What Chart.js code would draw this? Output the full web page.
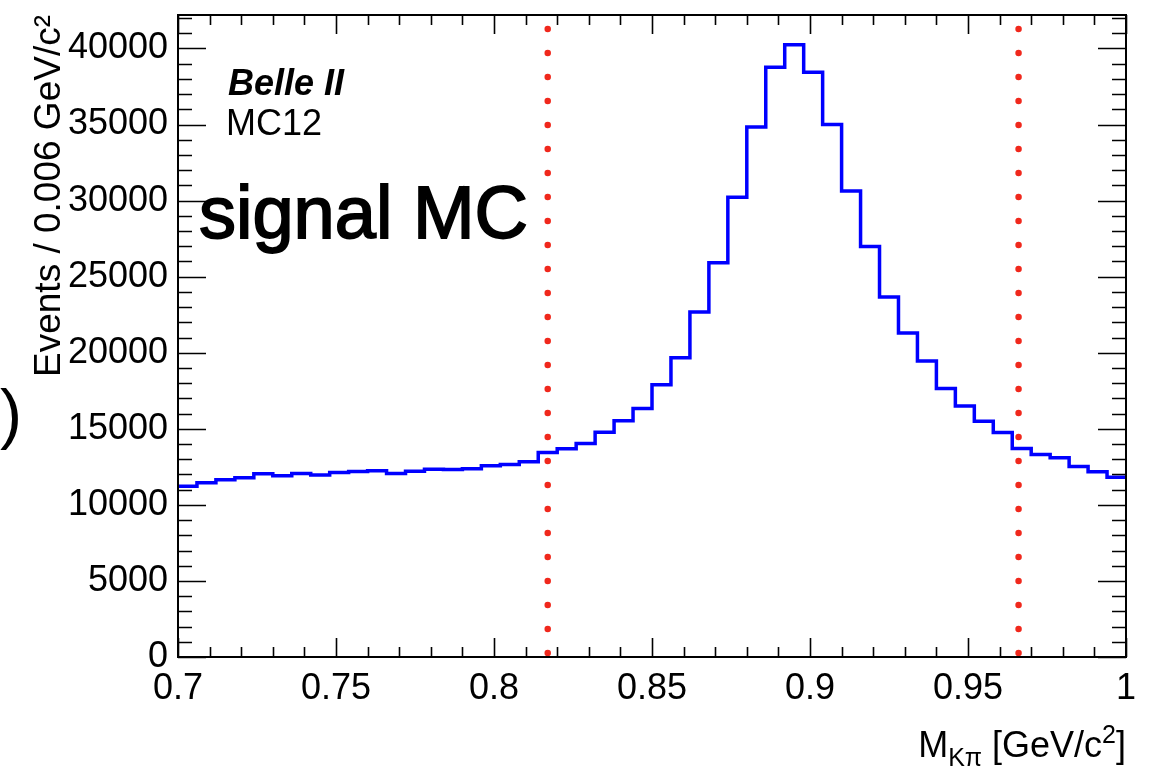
<!DOCTYPE html>
<html>
<head>
<meta charset="utf-8">
<script src="https://cdn.jsdelivr.net/npm/chart.js@4.4.1/dist/chart.umd.min.js"></script>
<style>
  html, body { margin: 0; padding: 0; background: #ffffff; }
  #wrap { width: 1154px; height: 771px; position: relative; }
</style>
</head>
<body>
<div id="wrap"><canvas id="c" width="1154" height="771"></canvas></div>
<script>
// ---- data ----
const binLow = 0.7;          // GeV/c^2, first bin edge
const binWidth = 0.006;      // GeV/c^2 per bin
const counts = [
  11220, 11450, 11650, 11780, 12040, 11910, 12060, 11970, 12130, 12190,
  12240, 12060, 12210, 12340, 12330, 12370, 12570, 12650, 12830, 13450,
  13690, 14030, 14780, 15530, 16340, 17900, 19670, 22670, 25920, 30220,
  34840, 38770, 40240, 38440, 35000, 30630, 26990, 23660, 21290, 19450,
  17650, 16500, 15500, 14760, 13700, 13310, 13090, 12520, 12170, 11820
];
const cutLines = [0.817, 0.966];              // mass window
const xTickValues = [0.7, 0.75, 0.8, 0.85, 0.9, 0.95, 1.0];
const xTickLabels = ['0.7', '0.75', '0.8', '0.85', '0.9', '0.95', '1'];
const yTickValues = [0, 5000, 10000, 15000, 20000, 25000, 30000, 35000, 40000];
const yTickLabels = ['0', '5000', '10000', '15000', '20000', '25000', '30000', '35000', '40000'];
const xRange = [0.7, 1.0];
const yMax = 42200;

// histogram outline points (left bin edges, plus closing right edge)
const histPoints = counts.map((c, i) => ({ x: binLow + i * binWidth, y: c }));
histPoints.push({ x: binLow + counts.length * binWidth, y: counts[counts.length - 1] });

const cutDatasets = cutLines.map(v => ({
  data: [{ x: v, y: 0 }, { x: v, y: yMax }],
  borderColor: 'rgb(240,40,28)',
  borderWidth: 6.5,
  borderDash: [0, 24],
  borderDashOffset: 20,
  borderCapStyle: 'round',
  pointRadius: 0,
  fill: false,
  tension: 0,
  order: 1
}));

const noPad = s => { s.paddingTop = 0; s.paddingBottom = 0; s.paddingLeft = 0; s.paddingRight = 0; };

const frameTicks = {
  id: 'frameTicks',
  afterDatasetsDraw(chart) {
    const { ctx, chartArea: a, scales: { x, y } } = chart;
    ctx.save();
    ctx.strokeStyle = '#000';
    ctx.lineWidth = 1.6;
    ctx.beginPath();
    for (let k = 0; k * 1000 <= y.max; k++) {
      const py = Math.round(y.getPixelForValue(k * 1000)) + 0.5;
      const len = k % 5 === 0 ? 28 : 14;
      ctx.moveTo(a.left, py); ctx.lineTo(a.left + len, py);
      ctx.moveTo(a.right, py); ctx.lineTo(a.right - len, py);
    }
    for (let k = 0; k <= 30; k++) {
      const px = Math.round(x.getPixelForValue(xRange[0] + k * 0.01)) + 0.5;
      const len = k % 5 === 0 ? 19 : 10;
      ctx.moveTo(px, a.bottom); ctx.lineTo(px, a.bottom - len);
      ctx.moveTo(px, a.top); ctx.lineTo(px, a.top + len);
    }
    ctx.stroke();
    ctx.lineWidth = 2;
    ctx.strokeRect(a.left, a.top, a.right - a.left, a.bottom - a.top);
    ctx.restore();
  }
};

const annotations = {
  id: 'annotations',
  afterDraw(chart) {
    const { ctx, chartArea: a } = chart;
    ctx.save();
    ctx.fillStyle = '#000';
    ctx.textAlign = 'left';
    ctx.textBaseline = 'alphabetic';
    ctx.font = 'italic bold 36px "Liberation Sans", Arial, sans-serif';
    ctx.fillText('Belle II', 228, 95);
    ctx.font = '36px "Liberation Sans", Arial, sans-serif';
    ctx.fillText('MC12', 226, 135);
    ctx.font = '74px "Liberation Sans", Arial, sans-serif';
    ctx.strokeStyle = '#000';
    ctx.lineWidth = 1.8;
    ctx.fillText('signal MC', 199, 238);
    ctx.strokeText('signal MC', 199, 238);
    ctx.font = '66px "Liberation Sans", Arial, sans-serif';
    ctx.fillText(')', 0, 436);

    // x-axis title  M_{K pi} [GeV/c^2], right aligned to frame
    const big = '36px "Liberation Sans", Arial, sans-serif';
    const small = '25px "Liberation Sans", Arial, sans-serif';
    const parts = [
      { t: 'M', f: big, dy: 0 },
      { t: 'Kπ', f: small, dy: 9 },
      { t: ' [GeV/c', f: big, dy: 0 },
      { t: '2', f: small, dy: -14 },
      { t: ']', f: big, dy: 0 }
    ];
    let total = 0;
    parts.forEach(p => { ctx.font = p.f; p.w = ctx.measureText(p.t).width; total += p.w; });
    let cx = a.right - total;
    const base = 757;
    parts.forEach(p => { ctx.font = p.f; ctx.fillText(p.t, cx, base + p.dy); cx += p.w; });
    ctx.restore();
  }
};

new Chart(document.getElementById('c'), {
  type: 'line',
  data: {
    datasets: [
      {
        data: histPoints,
        stepped: 'before',
        borderColor: '#0000ff',
        borderWidth: 3.5,
        pointRadius: 0,
        fill: false,
        order: 2
      },
      ...cutDatasets
    ]
  },
  options: {
    responsive: false,
    animation: false,
    devicePixelRatio: 1,
    layout: { padding: { top: 15, right: 28, left: 0, bottom: 0 } },
    plugins: { legend: { display: false }, tooltip: { enabled: false } },
    scales: {
      x: {
        type: 'linear',
        min: xRange[0],
        max: xRange[1],
        afterBuildTicks: s => { s.ticks = xTickValues.map(v => ({ value: v })); },
        afterFit: s => { s.height = 114; noPad(s); },
        grid: { display: false, drawTicks: false },
        border: { display: false },
        ticks: {
          color: '#000',
          font: { family: '"Liberation Sans", Arial, sans-serif', size: 36 },
          padding: 10,
          maxRotation: 0,
          autoSkip: false,
          callback: (v) => {
            const i = xTickValues.findIndex(t => Math.abs(t - v) < 1e-9);
            return i >= 0 ? xTickLabels[i] : '';
          }
        }
      },
      y: {
        type: 'linear',
        min: 0,
        max: yMax,
        afterBuildTicks: s => { s.ticks = yTickValues.map(v => ({ value: v })); },
        afterFit: s => { s.width = 178; noPad(s); },
        grid: { display: false, drawTicks: false },
        border: { display: false },
        title: {
          display: true,
          text: 'Events / 0.006 GeV/c²',
          align: 'end',
          color: '#000',
          font: { family: '"Liberation Sans", Arial, sans-serif', size: 37 },
          padding: { top: 28, bottom: 0 }
        },
        ticks: {
          color: '#000',
          font: { family: '"Liberation Sans", Arial, sans-serif', size: 36 },
          padding: 10,
          autoSkip: false,
          callback: (v) => {
            const i = yTickValues.indexOf(v);
            return i >= 0 ? yTickLabels[i] : '';
          }
        }
      }
    }
  },
  plugins: [frameTicks, annotations]
});
</script>
</body>
</html>
